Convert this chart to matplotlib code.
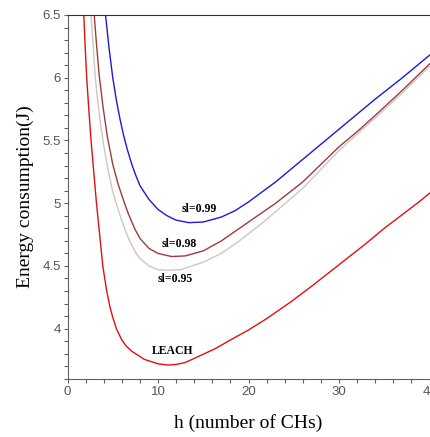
import matplotlib.pyplot as plt
from matplotlib.ticker import MultipleLocator

# values
h_099 = [4.2, 4.6, 5.0, 5.4, 5.8, 6.2, 6.6, 7.1, 7.5, 8.0, 9.0, 10.0, 11.0, 12.0, 13.4, 15.0, 17.0, 18.5,
         20.0, 21.5, 23.0, 24.5, 26.0, 28.0, 30.0, 32.0, 34.0, 37.0, 40.0]
e_099 = [6.5, 6.23, 6.0, 5.82, 5.67, 5.54, 5.43, 5.31, 5.23, 5.14, 5.03, 4.95, 4.90, 4.865, 4.845, 4.85, 4.89, 4.94,
         5.01, 5.09, 5.17, 5.26, 5.35, 5.47, 5.59, 5.71, 5.83, 6.00, 6.18]

h_098 = [2.95, 3.2, 3.5, 3.9, 4.4, 5.0, 5.6, 6.2, 6.7, 7.4, 8.0, 9.0, 10.0, 11.5, 13.0, 15.0, 17.0, 20.0,
         23.0, 26.0, 28.0, 30.0, 32.0, 34.0, 37.0, 40.0]
e_098 = [6.5, 6.27, 6.02, 5.78, 5.53, 5.31, 5.15, 5.02, 4.92, 4.80, 4.72, 4.64, 4.60, 4.575, 4.58, 4.62, 4.70, 4.85,
         5.00, 5.17, 5.31, 5.45, 5.57, 5.70, 5.90, 6.11]

h_095 = [2.6, 2.85, 3.07, 3.35, 3.6, 4.0, 4.5, 5.0, 5.5, 6.0, 6.5, 7.0, 7.5, 8.0, 9.0, 10.0, 11.0, 12.5, 15.0,
         17.0, 19.0, 22.0, 26.0, 28.0, 30.0, 32.0, 34.0, 37.0, 40.0]
e_095 = [6.5, 6.24, 6.0, 5.8, 5.66, 5.46, 5.26, 5.09, 4.97, 4.86, 4.76, 4.68, 4.61, 4.56, 4.50, 4.47, 4.465, 4.47, 4.53,
         4.60, 4.70, 4.87, 5.12, 5.27, 5.42, 5.55, 5.68, 5.88, 6.09]

h_leach = [1.8, 1.95, 2.12, 2.35, 2.6, 2.9, 3.2, 3.55, 3.9, 4.33, 4.7, 5.0, 5.4, 6.0, 6.5, 7.1, 8.5, 10.0, 11.1,
           12.0, 13.0, 14.5, 16.3, 18.0, 20.0, 22.0, 24.6, 27.0, 30.0, 33.0, 35.0, 37.0, 39.0, 40.0]
e_leach = [6.5, 6.25, 6.0, 5.75, 5.5, 5.25, 5.0, 4.75, 4.5, 4.3, 4.17, 4.09, 4.0, 3.91, 3.86, 3.82, 3.755, 3.72, 3.71,
           3.715, 3.73, 3.78, 3.84, 3.91, 3.99, 4.08, 4.21, 4.34, 4.51, 4.68, 4.80, 4.91, 5.02, 5.08]

labels = ["sl=0.99", "sl=0.98", "sl=0.95", "LEACH"]
label_pos = [(14.5, 4.956), (12.3, 4.676), (11.95, 4.396), (11.65, 3.82)]

fig = plt.figure(figsize=(4.3, 4.37), dpi=100)
ax = fig.add_axes([0.157, 0.133, 0.842, 0.8327])

ax.plot(h_099, e_099, color='#1a1ad8', lw=1.0)
ax.plot(h_098, e_098, color='#a03a3a', lw=1.0)
ax.plot(h_095, e_095, color='#c8c8c8', lw=1.0)
ax.plot(h_leach, e_leach, color='#e01010', lw=1.0)

for txt, (x, y) in zip(labels, label_pos):
    ax.text(x, y, txt, ha='center', va='center', fontsize=8.5,
            fontweight='bold', family='Liberation Serif', color='black')

ax.set_xlim(0, 40)
ax.set_ylim(3.6, 6.5)
ax.xaxis.set_major_locator(MultipleLocator(10))
ax.xaxis.set_minor_locator(MultipleLocator(2))
ax.yaxis.set_minor_locator(MultipleLocator(0.1))
ax.set_yticks([4, 4.5, 5, 5.5, 6, 6.5])
ax.set_yticklabels(['4', '4.5', '5', '5.5', '6', '6.5'])

for sp in ['left', 'bottom']:
    ax.spines[sp].set_color('#606060')
ax.spines['top'].set_color('#303030')
ax.spines['right'].set_visible(False)

ax.tick_params(which='both', direction='out', length=3, width=0.8, color='#606060',
               labelsize=9.5, labelcolor='#555555', pad=2)
for lab in ax.get_xticklabels() + ax.get_yticklabels():
    lab.set_family('Liberation Sans')

ax.set_ylabel('Energy consumption(J)', family='Liberation Serif', fontsize=14, labelpad=6)
ax.set_xlabel('h (number of CHs)', family='Liberation Serif', fontsize=14, labelpad=12)

fig.savefig('out.png', dpi=100)
